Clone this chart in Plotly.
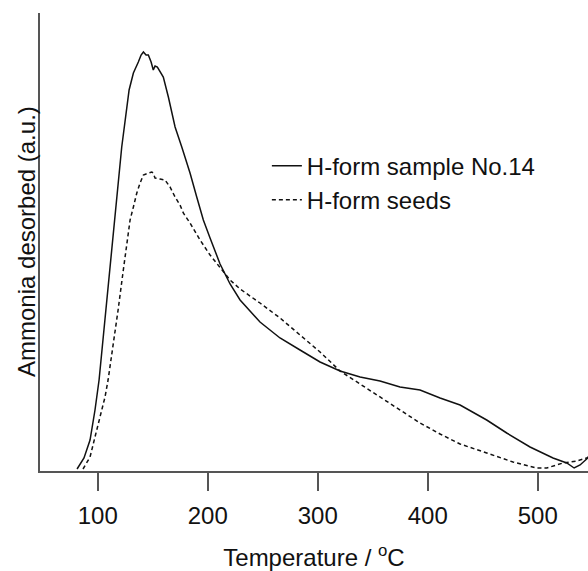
import plotly.graph_objects as go

# H-form sample No.14 (solid)
temp_sample = [81.2, 87.5, 93.0, 97.5, 101.2, 115.7, 121.8, 128.5, 132.4, 136.9, 139.4, 141.5,
               143.9, 146.0, 148.5, 150.5, 152.1, 154.2, 156.6, 159.6, 164.2, 170.3, 176.4,
               183.9, 190.0, 196.0, 202.1, 211.2, 220.3, 229.4, 247.5, 265.7, 283.9, 302.1,
               320.3, 338.5, 356.6, 374.8, 393.0, 411.2, 429.4, 453.6, 471.8, 493.0, 513.9,
               526.4, 533.1, 538.5, 544.5, 547.5]
val_sample = [2, 13, 31, 61, 91, 251, 324, 381, 398, 409, 416, 419,
              416, 416, 409, 401, 405, 404, 399, 394, 374, 344, 324,
              298, 274, 251, 233, 207, 187, 171, 149, 133, 121, 109,
              100, 94, 90, 84, 81, 73, 66, 51, 38, 24, 13,
              8, 3, 6, 12, 15]

# H-form seeds (dashed)
temp_seeds = [86.6, 93.0, 97.5, 102.1, 106.6, 109.4, 113.9, 118.5, 123.0, 126.6, 129.4, 132.4,
              135.5, 138.5, 141.5, 146.0, 149.1, 150.3, 152.1, 156.6, 161.2, 165.7, 170.3,
              174.8, 177.8, 183.9, 193.0, 202.1, 211.2, 220.3, 229.4, 247.5, 265.7, 283.9,
              302.1, 320.3, 338.5, 356.6, 374.8, 393.0, 411.2, 429.4, 453.6, 477.5, 499.1,
              508.2, 523.0, 535.5, 544.5, 547.5]
val_seeds = [2, 14, 34, 54, 74, 91, 124, 161, 199, 231, 251, 264,
             278, 288, 296, 298, 299, 298, 293, 292, 291, 284, 274,
             266, 258, 248, 231, 216, 203, 191, 182, 168, 153, 136,
             119, 100, 87, 74, 61, 48, 37, 27, 18, 9, 3,
             3, 8, 10, 13, 15]

x_ticks = [100, 200, 300, 400, 500]
x_title = "Temperature / <sup>o</sup>C"
y_title = "Ammonia desorbed (a.u.)"

FONT = "Liberation Sans, Arial, sans-serif"

fig = go.Figure()
fig.add_trace(go.Scatter(x=temp_sample, y=val_sample, mode="lines",
                         name="H-form sample No.14",
                         line=dict(color="#111111", width=1.5)))
fig.add_trace(go.Scatter(x=temp_seeds, y=val_seeds, mode="lines",
                         name="H-form seeds",
                         line=dict(color="#111111", width=1.5, dash="4px,3px")))

fig.update_layout(
    width=588, height=571,
    margin=dict(l=40, r=0, t=13, b=100),
    paper_bgcolor="white", plot_bgcolor="white",
    font=dict(family=FONT, size=24, color="#111111"),
    showlegend=True,
    legend=dict(x=0.414, y=0.715, xanchor="left", yanchor="top",
                bgcolor="rgba(0,0,0,0)", font=dict(size=24),
                tracegroupgap=0, itemwidth=30),
    xaxis=dict(range=[47.5, 545.7], tickvals=x_ticks,
               ticks="outside", ticklen=18, tickwidth=1.5, tickcolor="#555555",
               showline=True, linecolor="#555555", linewidth=1.5,
               showgrid=False, zeroline=False, mirror=False,
               ticklabelstandoff=4,
               title=dict(text=x_title, standoff=22, font=dict(size=24))),
    yaxis=dict(range=[0, 458], showticklabels=False, ticks="",
               showline=True, linecolor="#555555", linewidth=1.5,
               showgrid=False, zeroline=False),
    annotations=[dict(text=y_title, textangle=-90, xref="paper", yref="paper",
                      x=0, y=0.5, xanchor="center", yanchor="middle",
                      xshift=-14, showarrow=False, font=dict(size=24))],
)

fig.write_html("out.html")
